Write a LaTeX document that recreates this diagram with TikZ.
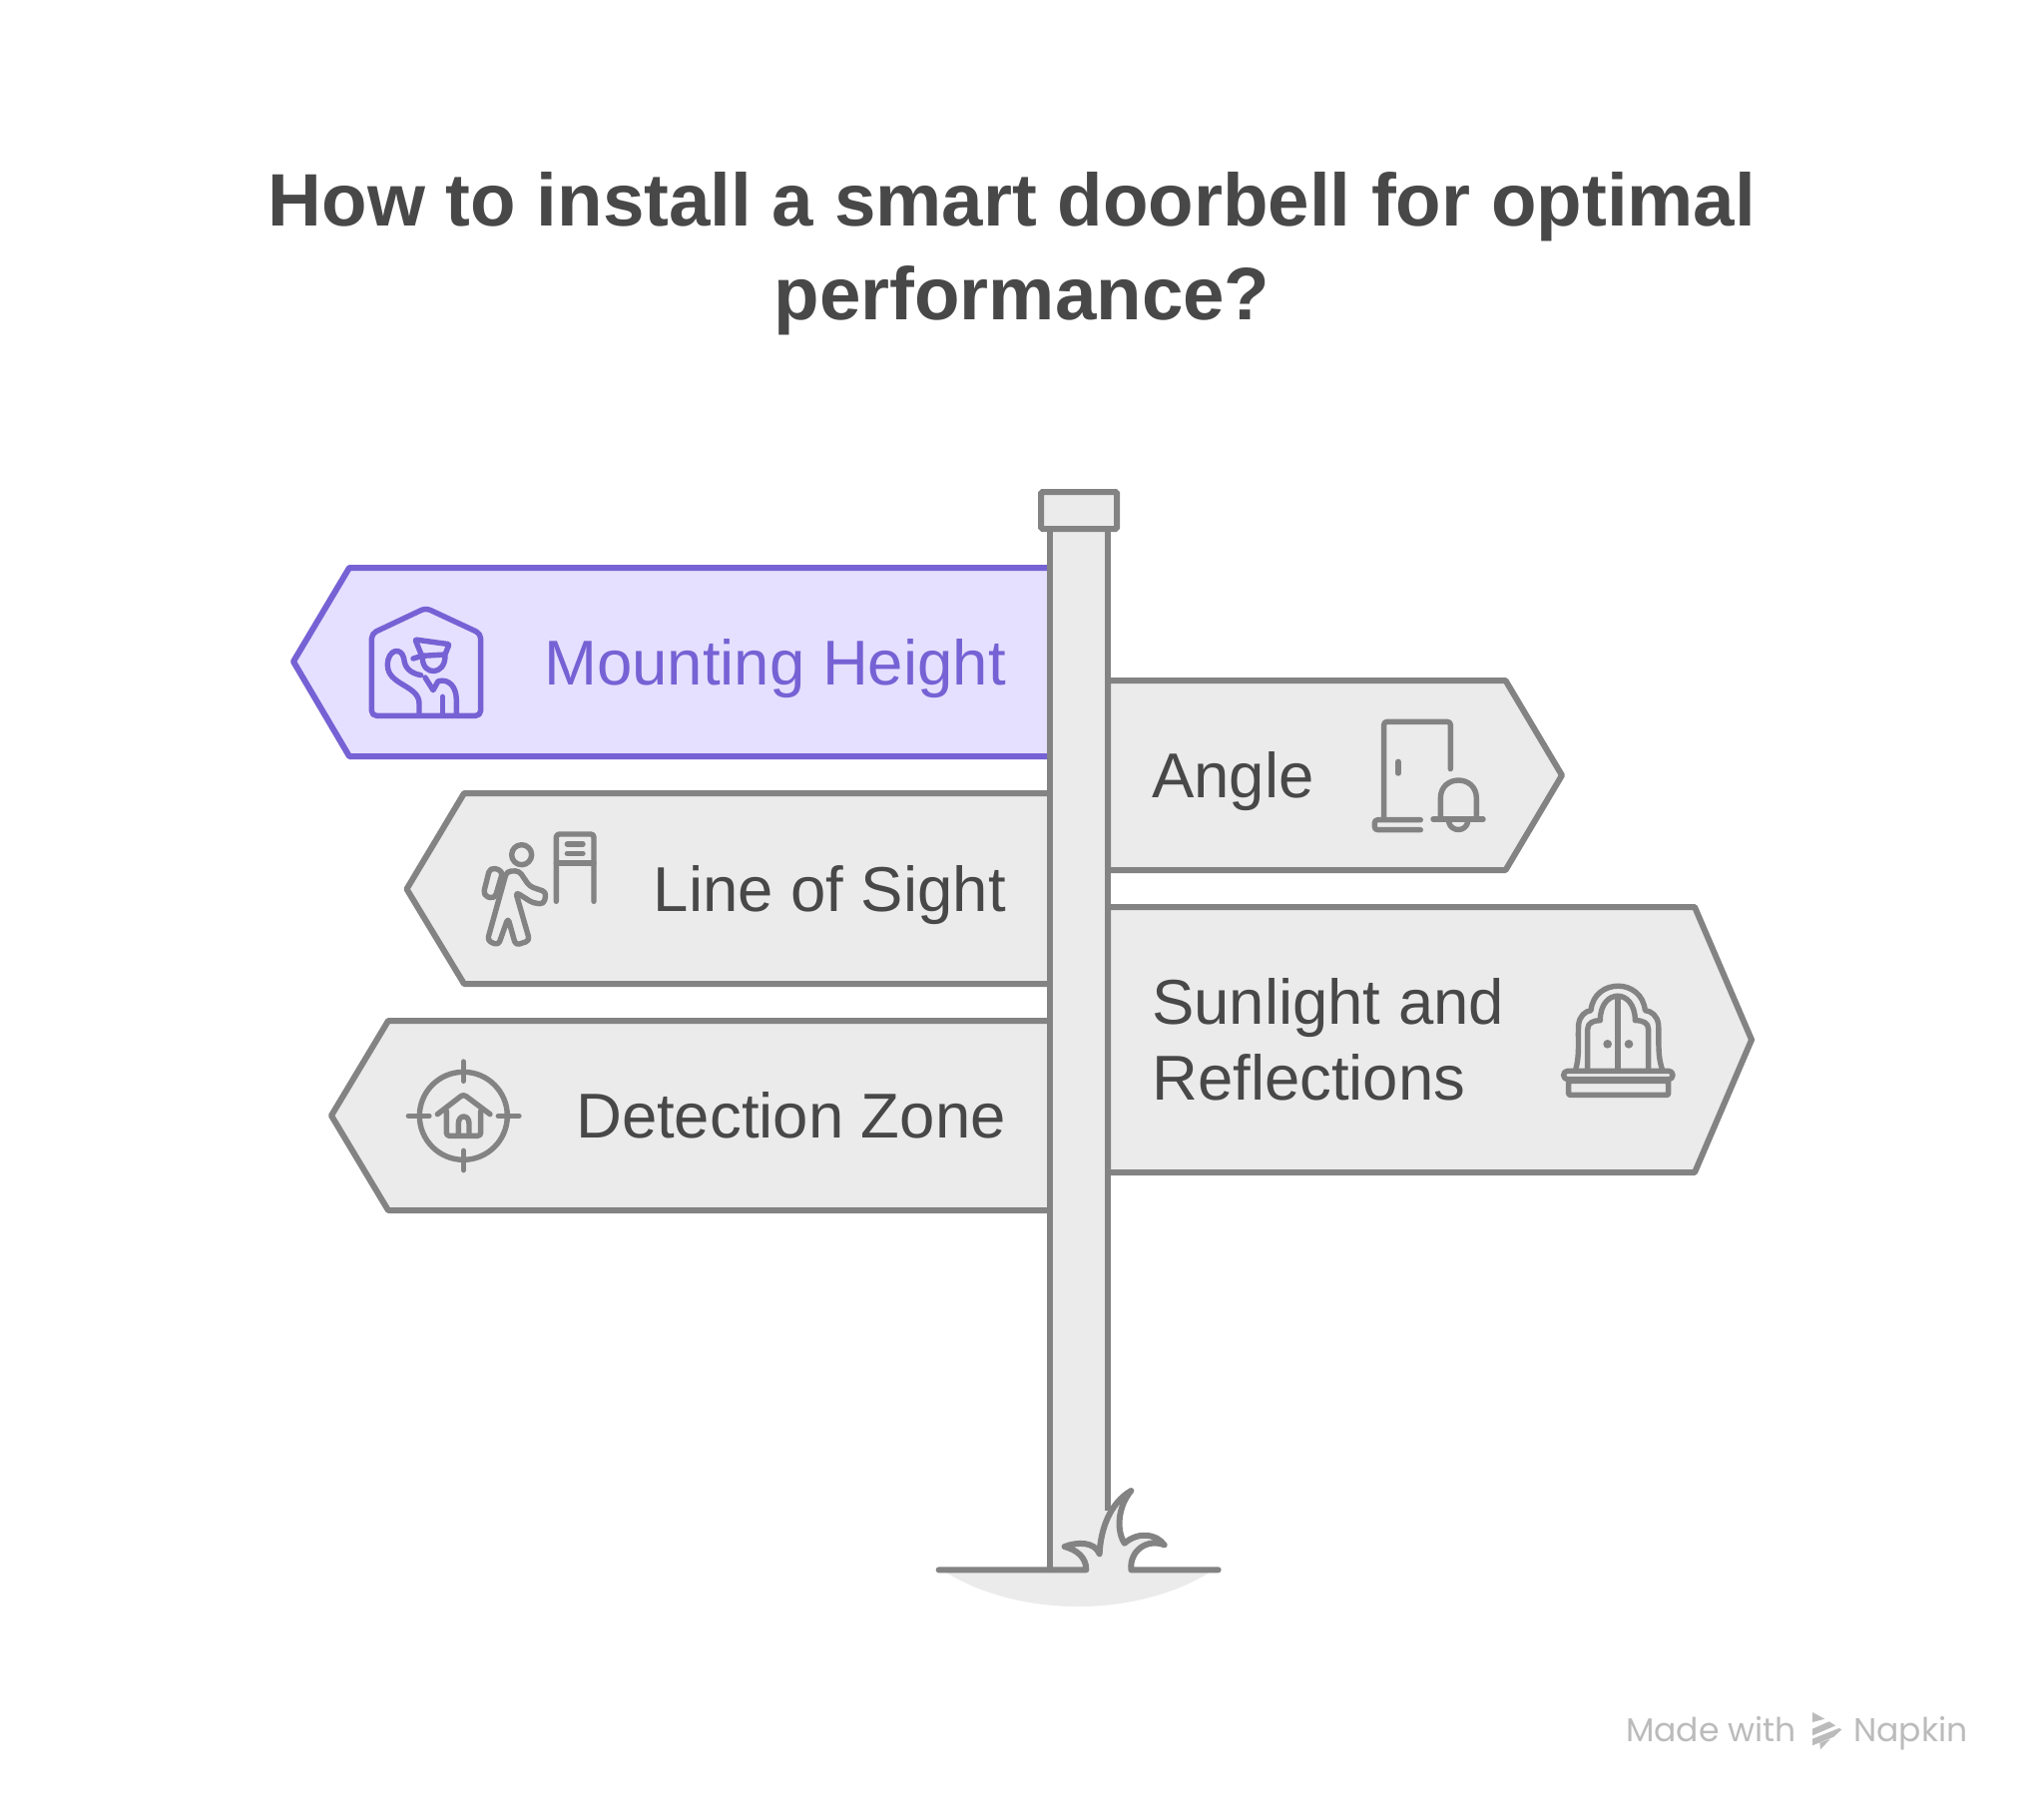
\documentclass[tikz,border=0pt]{standalone}
\usepackage{fontspec}
\setmainfont{Liberation Sans}
\newfontfamily\markfont{Poppins}
\definecolor{signgray}{HTML}{838383}
\definecolor{signfill}{HTML}{EBEBEB}
\definecolor{signtext}{HTML}{484848}
\definecolor{mountline}{HTML}{7662D4}
\definecolor{mountfill}{HTML}{E5E0FF}
\definecolor{markgray}{HTML}{BBBBBB}
\tikzset{
	signboard/.style={draw=signgray, fill=signfill, line width=6pt, line join=round},
	mountboard/.style={draw=mountline, fill=mountfill, line width=6pt, line join=round},
	iconline/.style={line width=5.4pt, line cap=round, line join=round, rounded corners=3pt},
	signlabel/.style={inner sep=0pt, text=signtext, font=\fontsize{63.5}{76}\selectfont},
	titlelabel/.style={inner sep=0pt, text=signtext, font=\fontsize{74.5}{90}\selectfont\bfseries},
	marklabel/.style={inner sep=0pt, anchor=base west, text=markgray, font=\markfont\fontsize{33}{33}\selectfont},
}
\begin{document}
\begin{tikzpicture}[x=1pt, y=-1pt]
	\useasboundingbox (0,0) rectangle (2048,1820);
	\fill[white] (0,0) rectangle (2048,1820);
	% title
	\node[titlelabel, anchor=base] (title1) at (1014,226) {How to install a smart doorbell for optimal};
	\node[titlelabel, anchor=base] (title2) at (1024,320) {performance?};
	% signs
	\draw[mountboard] (1052,569) -- (350,569) -- (294,663) -- (350,758) -- (1052,758) -- cycle;
	\draw[signboard] (1052,795) -- (465,795) -- (407.5,891) -- (465,986) -- (1052,986) -- cycle;
	\draw[signboard] (1052,1023) -- (389,1023) -- (332,1118) -- (389,1213) -- (1052,1213) -- cycle;
	\draw[signboard] (1110,682) -- (1508.5,682) -- (1565,777) -- (1508.5,872) -- (1110,872) -- cycle;
	\draw[signboard] (1110,909) -- (1698,909) -- (1755,1042) -- (1698,1175) -- (1110,1175) -- cycle;
	% ground
	\fill[signfill] (945,1574) .. controls (1020,1622) and (1140,1622) .. (1215,1574) -- cycle;
	% post
	\fill[signfill] (1052,530) rectangle (1110,1576);
	\draw[signgray, line width=6pt] (1052,530) -- (1052,1574);
	\draw[signgray, line width=6pt] (1110,530) -- (1110,1514);
	\draw[signgray, fill=signfill, line width=6pt, rounded corners=1.5pt] (1043,493) rectangle (1119,530);
	% grass
	\begin{scope}[shift={(920,1470)}, scale=0.3333]
		\fill[signfill] (505,312) .. controls (505,270) and (475,250) .. (440,240) .. controls (480,225) and (530,225) .. (545,262) .. controls (548,190) and (575,110) .. (640,72) .. controls (600,120) and (595,190) .. (620,230) .. controls (660,195) and (715,200) .. (740,235) .. controls (690,215) and (635,250) .. (640,312) -- cycle;
		\draw[signgray, iconline, line width=6pt, rounded corners=0pt] (62,310) -- (505,310) .. controls (505,270) and (475,250) .. (440,240) .. controls (480,225) and (530,225) .. (545,262) .. controls (548,190) and (575,110) .. (640,72) .. controls (600,120) and (595,190) .. (620,230) .. controls (660,195) and (715,200) .. (740,235) .. controls (690,215) and (635,250) .. (640,310) -- (902,310);
	\end{scope}
	% mounting height
	\node[signlabel, text=mountline, anchor=base east] (mounting) at (1008,686) {Mounting Height};
	\begin{scope}[shift={(340,580)}, scale=0.3333, draw=mountline]
		\draw[iconline, rounded corners=5pt] (260,88) -- (97,165) -- (97,412) -- (425,412) -- (425,165) -- cycle;
		\draw[iconline, rounded corners=1pt] (248,232) -- (228,183) -- (330,197) -- (318,228) -- (248,232) -- (222,240);
		\draw[iconline, rounded corners=0pt] (250,238) .. controls (250,292) and (318,292) .. (318,232);
		\draw[iconline, rounded corners=0pt] (245,290) .. controls (215,284) and (197,270) .. (194,240) .. controls (188,205) and (145,210) .. (145,260) .. controls (145,320) and (240,320) .. (240,375) -- (240,410);
		\draw[iconline, rounded corners=0pt] (258,297) -- (282,335) -- (297,308) .. controls (330,300) and (352,325) .. (352,365) -- (352,410);
		\draw[iconline] (310,355) -- (310,410);
	\end{scope}
	% line of sight
	\node[signlabel, anchor=base east] (sight) at (1008,913) {Line of Sight};
	\begin{scope}[shift={(460,820)}, scale=0.3333, draw=signgray]
		\draw[iconline] (292,250) -- (292,48) -- (405,48) -- (405,250);
		\draw[iconline] (292,135) -- (405,135);
		\draw[iconline] (325,78) -- (372,78);
		\draw[iconline] (325,106) -- (372,106);
		\draw[iconline] (188,110) circle (30);
		\draw[iconline, rounded corners=5pt] (93,148) -- (132,158) -- (107,243) -- (72,232) -- cycle;
		\draw[iconline, rounded corners=4pt] (143,160) -- (180,158) -- (212,205) -- (262,222) -- (255,258) -- (222,255) -- (170,222) -- (212,368) -- (170,382) -- (147,300) -- (118,382) -- (85,368) -- cycle;
	\end{scope}
	% detection zone
	\node[signlabel, anchor=base east] (detection) at (1008,1140) {Detection Zone};
	\begin{scope}[shift={(390,1050)}, scale=0.3333, draw=signgray]
		\draw[iconline] (223,205) circle (132);
		\draw[iconline] (223,42) -- (223,100);
		\draw[iconline] (223,310) -- (223,368);
		\draw[iconline] (58,205) -- (120,205);
		\draw[iconline] (328,205) -- (390,205);
		\draw[iconline] (145,200) -- (223,140) -- (303,200);
		\draw[iconline] (172,190) -- (172,265) -- (275,265) -- (275,190);
		\draw[iconline, rounded corners=0pt] (208,262) -- (208,228) .. controls (208,200) and (240,200) .. (240,228) -- (240,262);
	\end{scope}
	% angle
	\node[signlabel, anchor=base west] (angle) at (1154,799) {Angle};
	\begin{scope}[shift={(1350,700)}, scale=0.3333, draw=signgray]
		\draw[iconline] (310,212) -- (310,70) -- (110,70) -- (110,360);
		\draw[iconline] (153,190) -- (153,225);
		\draw[iconline] (220,365) -- (82,365) -- (82,395) -- (220,395);
		\draw[iconline] (258,363) -- (408,363);
		\draw[iconline, rounded corners=0pt] (280,360) -- (280,300) .. controls (280,228) and (388,228) .. (388,300) -- (388,360);
		\draw[iconline, rounded corners=0pt] (305,372) .. controls (312,402) and (355,402) .. (362,372);
	\end{scope}
	% sunlight and reflections
	\node[signlabel, anchor=base west] (sunlight) at (1154,1026) {Sunlight and};
	\node[signlabel, anchor=base west] (reflections) at (1154,1102) {Reflections};
	\begin{scope}[shift={(1540,970)}, scale=0.3333, draw=signgray]
		\draw[iconline, rounded corners=0pt] (115,310) .. controls (130,260) and (122,215) .. (125,170) .. controls (128,145) and (145,130) .. (162,128) .. controls (172,30) and (315,30) .. (325,128) .. controls (345,130) and (362,145) .. (365,170) .. controls (368,215) and (360,260) .. (378,310);
		\draw[iconline, rounded corners=0pt] (152,310) -- (152,185) .. controls (152,165) and (170,158) .. (190,158) .. controls (190,60) and (295,60) .. (295,158) .. controls (318,158) and (335,165) .. (335,185) -- (335,310);
		\draw[iconline] (243,90) -- (243,310);
		\fill[signgray] (212,229) circle (13);
		\fill[signgray] (276,229) circle (13);
		\draw[iconline, rounded corners=4pt] (80,310) rectangle (408,335);
		\draw[iconline, rounded corners=1pt] (95,340) rectangle (395,382);
	\end{scope}
	% watermark
	\node[marklabel] (madewith) at (1629,1745) {Made with};
	\node[marklabel] (napkin) at (1857,1745) {Napkin};
	\begin{scope}[shift={(1610,1700)}, scale=0.3333]
		\fill[markgray] (618,48) -- (655,68) -- (618,78) -- cycle;
		\fill[markgray] (618,98) -- (668,76) -- (688,88) -- (618,118) -- cycle;
		\fill[markgray] (618,128) -- (698,96) -- (706,100) -- (682,122) -- (618,148) -- cycle;
		\fill[markgray] (640,140) -- (672,128) -- (642,160) -- cycle;
	\end{scope}
\end{tikzpicture}
\end{document}
